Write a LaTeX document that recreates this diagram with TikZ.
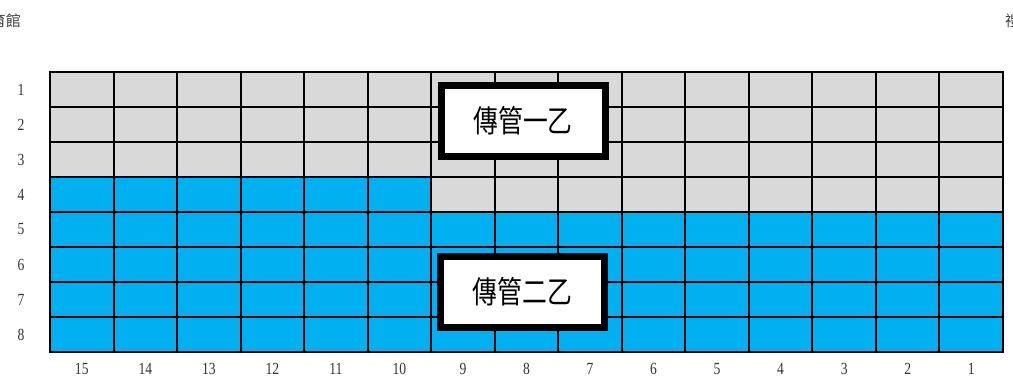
\documentclass[tikz,border=0pt]{standalone}
\usepackage{fontspec}
\setmainfont{Liberation Serif}
\newfontfamily\cjk{Noto Sans CJK TC}
\definecolor{seatgray}{HTML}{D9D9D9}
\definecolor{seatblue}{HTML}{00B0F0}
\begin{document}
\begin{tikzpicture}[x=1pt,y=-1pt,
  gridline/.style={draw=black,line width=2pt},
  numlbl/.style={font=\fontsize{17}{17}\selectfont,xscale=0.8,inner sep=0pt,text=black!80},
  cornerlbl/.style={font=\cjk\fontsize{15}{15}\selectfont,inner sep=0pt,text=black!75},
  tagbox/.style={draw=black,fill=white,line width=7pt,minimum width=164pt,minimum height=71pt,inner sep=0pt,font=\cjk\fontsize{31}{31}\selectfont}
]
\useasboundingbox (0,0) rectangle (1013,384);
% fills
\fill[seatgray] (50,72) rectangle (1003,352);
\fill[seatblue] (50,177) rectangle (431.2,352);
\fill[seatblue] (431.2,212) rectangle (1003,352);
% grid
\foreach \i in {0,...,15} {
  \draw[gridline] ({50+953/15*\i},72) -- ({50+953/15*\i},352);
}
\foreach \j in {0,...,8} {
  \draw[gridline] (49,{72+35*\j}) -- (1004,{72+35*\j});
}
% row labels
\foreach \j in {1,...,8} {
  \node[numlbl] (r\j) at (21,{54.5+35*\j}) {\j};
}
% column labels
\foreach \i in {0,...,14} {
  \pgfmathtruncatemacro{\c}{15-\i}
  \node[numlbl] (c\c) at ({50+953/15*(\i+0.5)},369) {\c};
}
% corner texts (cut by the page edge, as in the reference)
\node[cornerlbl,anchor=east] (lt) at (21,21) {體育館};
\node[cornerlbl,anchor=west] (rt) at (1005,21) {禮堂};
% class boxes
\node[tagbox] (b1) at (523,121) {\scalebox{0.8}[1]{傳管一乙}};
\node[tagbox] (b2) at (522.5,291.5) {\scalebox{0.8}[1]{傳管二乙}};
\end{tikzpicture}
\end{document}
